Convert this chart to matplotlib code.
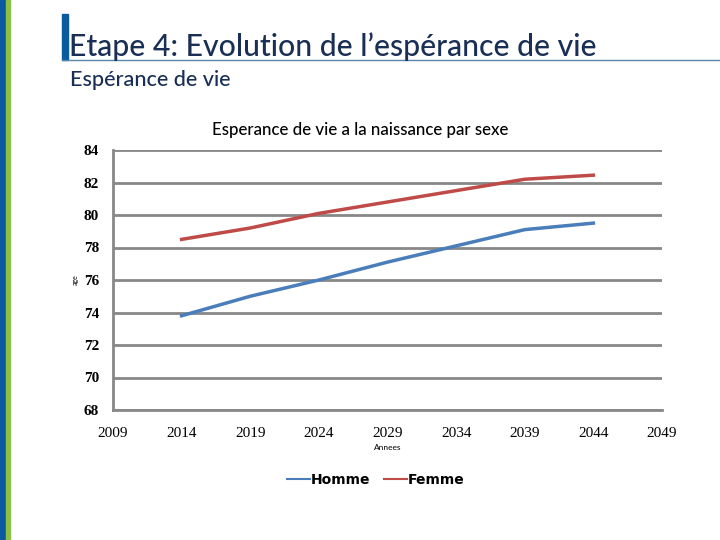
import matplotlib
matplotlib.use('Agg')
import matplotlib.pyplot as plt
from matplotlib.patches import Rectangle
from matplotlib.lines import Line2D

# Data
years = [2014, 2019, 2024, 2029, 2034, 2039, 2044]
homme = [73.8, 75.0, 76.0, 77.1, 78.1, 79.1, 79.5]
femme = [78.5, 79.2, 80.1, 80.8, 81.5, 82.2, 82.45]
x_ticks = [2009, 2014, 2019, 2024, 2029, 2034, 2039, 2044, 2049]
y_ticks = [68, 70, 72, 74, 76, 78, 80, 82, 84]

blue = '#4a7ebb'
red = '#be4b48'

fig = plt.figure(figsize=(7.2, 5.4), dpi=100)

# slide decorations
fig.patches.append(Rectangle((0, 0), 6/720, 1, transform=fig.transFigure, color='#0a5aa0'))
fig.patches.append(Rectangle((6/720, 0), 4/720, 1, transform=fig.transFigure, color='#8dc045'))
fig.patches.append(Rectangle((62/720, 1-60/540), 6/720, 46/540, transform=fig.transFigure, color='#0a5aa0'))
fig.lines.append(Line2D([62/720, 1], [1-60/540, 1-60/540], transform=fig.transFigure,
                        color='#5a88a8', lw=1))

fig.text(69/720, 1-47/540, "Etape 4: Evolution de l’espérance de vie", fontsize=21.7,
         family='Lato', fontweight='medium', color='#1a2f55', va='center', ha='left')
fig.text(70/720, 1-80/540, "Espérance de vie", fontsize=15.6,
         family='Lato', fontweight='medium', color='#1a2f55', va='center', ha='left')

ax = fig.add_axes([113/720, 1-410/540, (662-113)/720, (410-150)/540])
ax.plot(years, homme, color=blue, lw=2.5)
ax.plot(years, femme, color=red, lw=2.5)

ax.set_xlim(2009, 2049)
ax.set_ylim(68, 84)
ax.set_xticks(x_ticks)
ax.set_yticks(y_ticks)
ax.set_xticklabels([str(t) for t in x_ticks], family='Liberation Serif', fontsize=11)
ax.set_yticklabels([str(t) for t in y_ticks], family='Liberation Serif', fontsize=11, fontweight='bold')
ax.tick_params(axis='x', length=0, pad=12)
ax.tick_params(axis='y', length=0, pad=10)
ax.grid(axis='y', color='#888888', lw=2)
ax.set_axisbelow(True)
for s in ['top', 'right']:
    ax.spines[s].set_visible(False)
for s in ['left', 'bottom']:
    ax.spines[s].set_color('#888888')
    ax.spines[s].set_linewidth(2)

fig.text(360/720, 1-130/540, "Esperance de vie a la naissance par sexe", fontsize=12.2,
         family='Lato', fontweight='medium', ha='center', va='center')
ax.set_xlabel("Annees", fontsize=6, family='Lato', labelpad=3)
ax.set_ylabel("age", fontsize=5, family='Lato', labelpad=0)
ax.yaxis.set_label_coords(-0.062, 0.5)

handles = [Line2D([], [], color=blue, lw=1.5), Line2D([], [], color=red, lw=1.5)]
fig.legend(handles, ['Homme', 'Femme'], loc='center', bbox_to_anchor=(376/720, 1-480/540),
           ncol=2, frameon=False, handlelength=1.6, handletextpad=0.1, columnspacing=1.0,
           prop={'family': 'DejaVu Sans', 'size': 10, 'weight': 'bold'})

fig.savefig('out.png', dpi=100)
